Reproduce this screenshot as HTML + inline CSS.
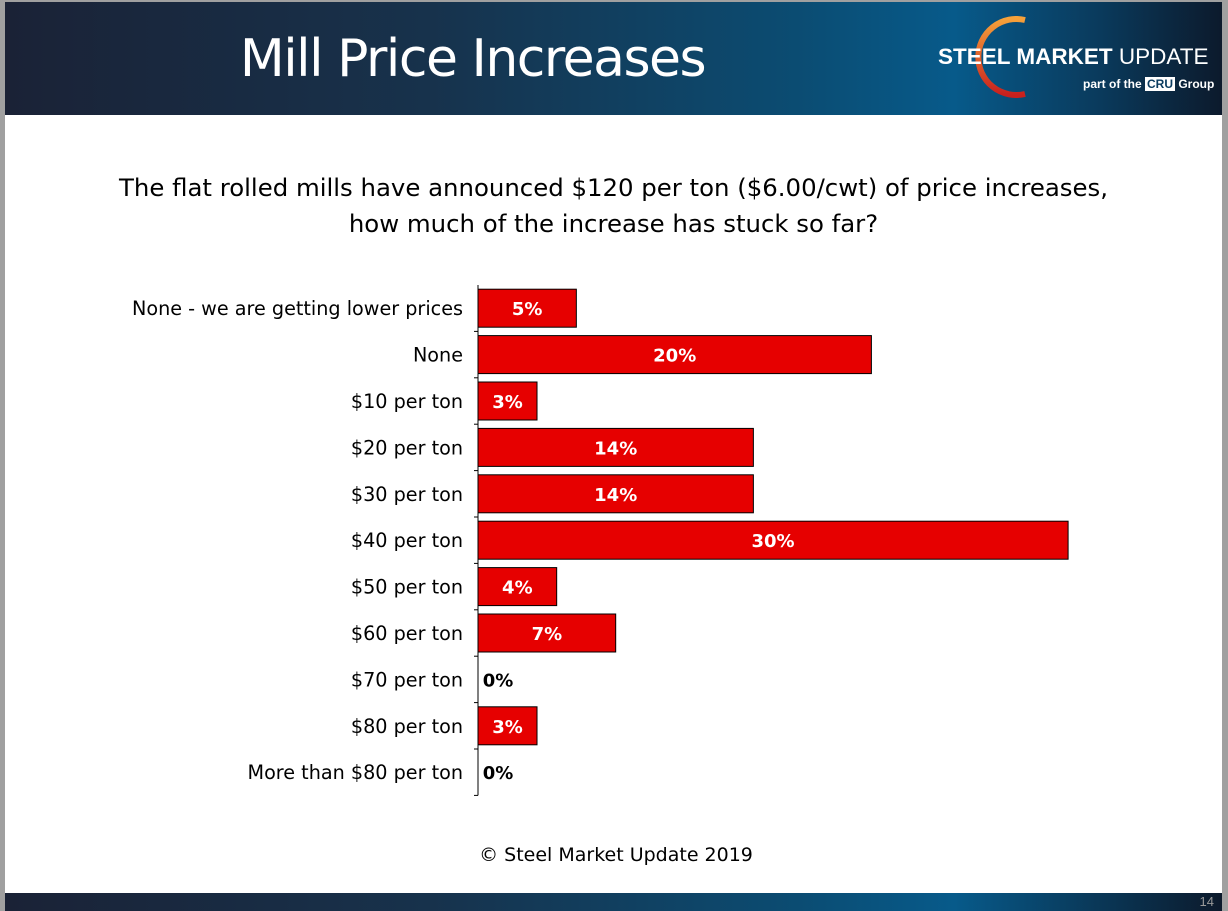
<!DOCTYPE html>
<html><head><meta charset="utf-8"><style>
body{margin:0;width:1228px;height:911px;background:#a0a0a0;position:relative;overflow:hidden;font-family:"Liberation Sans",sans-serif}
#slide{position:absolute;left:5px;top:2px;width:1217px;height:909px;background:#fff}
#hdr{position:absolute;left:0;top:0;width:1217px;height:113px;background:linear-gradient(90deg,#1a2236 0%,#17324c 35%,#0b4c72 65%,#075a8a 78%,#0a3a5c 90%,#0c1a2c 100%)}
#ftr{position:absolute;left:0;top:891px;width:1217px;height:18px;background:linear-gradient(90deg,#1a2236 0%,#17324c 35%,#0b4c72 65%,#075a8a 78%,#0c1a2c 100%)}
</style></head><body>
<div id="slide">
<div id="hdr">
<div style="position:absolute;left:0;width:935px;top:27px;text-align:center;color:#fff;font-size:52px;font-family:'DejaVu Sans','Liberation Sans',sans-serif;letter-spacing:-1.5px">Mill Price Increases</div>
<svg style="position:absolute;left:960px;top:14px" width="80" height="82"><path d="M60 4 A38 38 0 1 0 60 78" fill="none" stroke="url(#g)" stroke-width="6"/><defs><linearGradient id="g" x1="0" y1="0" x2="0" y2="1"><stop offset="0" stop-color="#f6a13a"/><stop offset="1" stop-color="#c8201e"/></linearGradient></defs></svg>
<div style="position:absolute;left:933px;top:42px;color:#fff;font-size:22.5px;white-space:nowrap"><b>STEEL MARKET</b> UPDATE</div>
<div style="position:absolute;left:1078px;top:75px;color:#fff;font-size:12px;font-weight:bold;white-space:nowrap">part of the <span style="background:#fff;color:#0b3c60;padding:0 2px">CRU</span> Group</div>
</div>
<div style="position:absolute;left:0;width:1217px;top:168px;text-align:center;font-size:24.4px;line-height:36px;font-family:'DejaVu Sans','Liberation Sans',sans-serif;color:#000">The flat rolled mills have announced $120 per ton ($6.00/cwt) of price increases,<br>how much of the increase has stuck so far?</div>
<svg id="chart" style="position:absolute;left:-5px;top:-2px" width="1228" height="911"></svg>
<div style="position:absolute;left:0;width:1222px;top:842px;text-align:center;font-size:19px;font-family:'DejaVu Sans','Liberation Sans',sans-serif">© Steel Market Update 2019</div>
<div id="ftr"><span style="position:absolute;right:8px;top:1px;color:#999;font-size:13px">14</span></div>
</div>
<script>
const categories=["None - we are getting lower prices","None","$10 per ton","$20 per ton","$30 per ton","$40 per ton","$50 per ton","$60 per ton","$70 per ton","$80 per ton","More than $80 per ton"];
const values=[5,20,3,14,14,30,4,7,0,3,0];
const svg=document.getElementById('chart');const NS='http://www.w3.org/2000/svg';
const x0=478,pxPer=19.67,top0=285,band=46.4,bh=38;
const xs=v=>x0+v*pxPer, yc=i=>top0+band*(i+0.5);
function mk(t,a){const e=document.createElementNS(NS,t);for(const k in a)e.setAttribute(k,a[k]);svg.appendChild(e);return e;}
categories.forEach((c,i)=>{
 const l=mk('text',{x:463,y:yc(i)+7,'text-anchor':'end','font-size':19.2,'font-family':'DejaVu Sans, Liberation Sans, sans-serif'});l.textContent=c;
 
 
 const v=values[i];
 if(v>0){const r=mk('rect',{x:x0,y:yc(i)-bh/2,width:xs(v)-x0,height:bh,fill:'#e60000',stroke:'#000','stroke-width':1});
 
 }
 const t=mk('text',{x:v>0?(x0+xs(v))/2:x0+20,y:yc(i)+7,'text-anchor':'middle','font-size':18,'font-weight':'bold',fill:v>0?'#fff':'#000','font-family':'DejaVu Sans, Liberation Sans, sans-serif'});t.textContent=v+'%';
 
 
 mk('line',{x1:x0-4,x2:x0,y1:yc(i)+band/2,y2:yc(i)+band/2,stroke:'#000'});
});
const ax=mk('line',{x1:x0,x2:x0,y1:top0,y2:top0+band*categories.length,stroke:'#000','stroke-width':1});


</script>
</body></html>
